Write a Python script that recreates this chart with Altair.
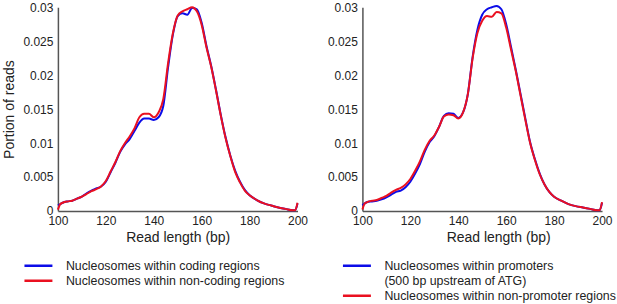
import altair as alt
import pandas as pd

# ---------------- data ----------------
read_length = [100, 101, 102, 104, 106, 108, 110, 112, 114, 116, 118, 120, 122, 124, 126,
               128, 130, 132, 134, 136, 138, 140, 142, 144, 146, 148, 150, 152, 154, 156,
               158, 160, 162, 164, 166, 168, 170, 172, 174, 176, 178, 180, 183, 186, 189,
               192, 195, 198, 199, 200]

coding = [0.0008, 0.0010, 0.0012, 0.0014, 0.0015, 0.0018, 0.0021, 0.0026, 0.0030, 0.0033,
          0.0036, 0.0043, 0.0057, 0.0071, 0.0087, 0.0098, 0.0106, 0.0118, 0.0130, 0.0136,
          0.0136, 0.0134, 0.0138, 0.0155, 0.0212, 0.0260, 0.0287, 0.0291, 0.0289, 0.0299,
          0.0297, 0.0277, 0.0243, 0.0213, 0.0178, 0.0141, 0.0108, 0.0081, 0.0059, 0.0043,
          0.0031, 0.0023, 0.0016, 0.0011, 0.0008, 0.0005, 0.0003, 0.0001, 0.0001, 0.0011]

non_coding = [0.0002, 0.0010, 0.0012, 0.0014, 0.0015, 0.0018, 0.0021, 0.0025, 0.0029, 0.0032,
              0.0036, 0.0044, 0.0058, 0.0072, 0.0088, 0.0100, 0.0110, 0.0122, 0.0138, 0.0143,
              0.0143, 0.0138, 0.0145, 0.0165, 0.0218, 0.0262, 0.0288, 0.0294, 0.0297, 0.0300,
              0.0294, 0.0274, 0.0241, 0.0212, 0.0177, 0.0140, 0.0107, 0.0080, 0.0057, 0.0042,
              0.0030, 0.0023, 0.0016, 0.0011, 0.0008, 0.0005, 0.0003, 0.0001, 0.0001, 0.0012]

promoter = [0.0008, 0.0011, 0.0013, 0.0014, 0.0015, 0.0017, 0.0020, 0.0024, 0.0028, 0.0030,
            0.0035, 0.0043, 0.0055, 0.0069, 0.0087, 0.0101, 0.0110, 0.0124, 0.0140, 0.0144,
            0.0143, 0.0137, 0.0145, 0.0172, 0.0227, 0.0267, 0.0289, 0.0297, 0.0300, 0.0302,
            0.0297, 0.0275, 0.0242, 0.0208, 0.0172, 0.0136, 0.0101, 0.0076, 0.0055, 0.0039,
            0.0028, 0.0021, 0.0015, 0.0010, 0.0007, 0.0005, 0.0003, 0.0001, 0.0001, 0.0012]

non_promoter = [0.0002, 0.0011, 0.0013, 0.0015, 0.0016, 0.0019, 0.0022, 0.0027, 0.0031, 0.0034,
                0.0039, 0.0047, 0.0059, 0.0073, 0.0090, 0.0103, 0.0111, 0.0124, 0.0139, 0.0142,
                0.0141, 0.0136, 0.0145, 0.0172, 0.0225, 0.0262, 0.0280, 0.0287, 0.0286, 0.0293,
                0.0291, 0.0270, 0.0238, 0.0206, 0.0170, 0.0134, 0.0100, 0.0075, 0.0054, 0.0039,
                0.0028, 0.0021, 0.0015, 0.0010, 0.0007, 0.0005, 0.0003, 0.0001, 0.0001, 0.0013]

left_names = ["Nucleosomes within coding regions", "Nucleosomes within non-coding regions"]
right_names = ["Nucleosomes within promoters", "(500 bp upstream of ATG)",
               "Nucleosomes within non-promoter regions"]

x_ticks = [100, 120, 140, 160, 180, 200]
y_ticks = [0, 0.005, 0.01, 0.015, 0.02, 0.025, 0.03]

BLUE = "#0c0ce8"
RED = "#ea1020"
FONT = "Liberation Sans"


def frame(values, name):
    return pd.DataFrame({"len": read_length, "val": values, "series": name})


left_df = pd.concat([frame(coding, left_names[0]), frame(non_coding, left_names[1])])
right_df = pd.concat([frame(promoter, right_names[0]), frame(non_promoter, right_names[2])])


def panel(df, names, domain, rng, y_title, title_x, legend_x):
    x = alt.X("len:Q", scale=alt.Scale(domain=[100, 200], nice=False),
              axis=alt.Axis(values=x_ticks, title="Read length (bp)", titleX=title_x,
                            labelFlush=False))
    y = alt.Y("val:Q", scale=alt.Scale(domain=[0, 0.03], nice=False),
              axis=alt.Axis(values=y_ticks, format="~g", title=y_title, labelFlush=False))
    color = alt.Color("series:N", scale=alt.Scale(domain=domain, range=rng),
                      legend=alt.Legend(orient="none", legendX=legend_x, legendY=251.5,
                                        title=None, symbolType="stroke", symbolSize=784,
                                        symbolStrokeWidth=2.5, clipHeight=15, rowPadding=0,
                                        labelOffset=12, labelFontSize=12.4, labelLimit=400,
                                        labelColor="#222", labelFont=FONT))
    layers = []
    for nm in names:
        layers.append(
            alt.Chart(df).transform_filter(alt.datum.series == nm)
            .mark_line(interpolate="monotone", strokeWidth=2)
            .encode(x=x, y=y, color=color)
        )
    return alt.layer(*layers).properties(width=240, height=204)


left = panel(left_df, left_names, left_names, [BLUE, RED], "Portion of reads", 120, -35)
right = panel(right_df, [right_names[0], right_names[2]], right_names,
              [BLUE, "transparent", RED], "", 136, -21)

chart = (
    alt.hconcat(left, right, spacing=65, bounds="flush")
    .resolve_scale(color="independent")
    .resolve_legend(color="independent")
    .properties(padding={"left": 2, "top": 1, "right": 0, "bottom": 0}, background="white")
    .configure_view(stroke=None)
    .configure_axis(
        grid=False, ticks=False, domainColor="#555", domainWidth=1.5,
        labelFont=FONT, labelFontSize=12, labelColor="#222", labelPadding=4,
        titleFont=FONT, titleFontSize=14, titleFontWeight="normal", titleColor="#222",
    )
    .configure_axisY(labelPadding=5, titlePadding=6)
    .configure_axisX(labelPadding=5, titlePadding=4)
)

chart.save("out.html", embed_options={"renderer": "svg", "actions": False})
